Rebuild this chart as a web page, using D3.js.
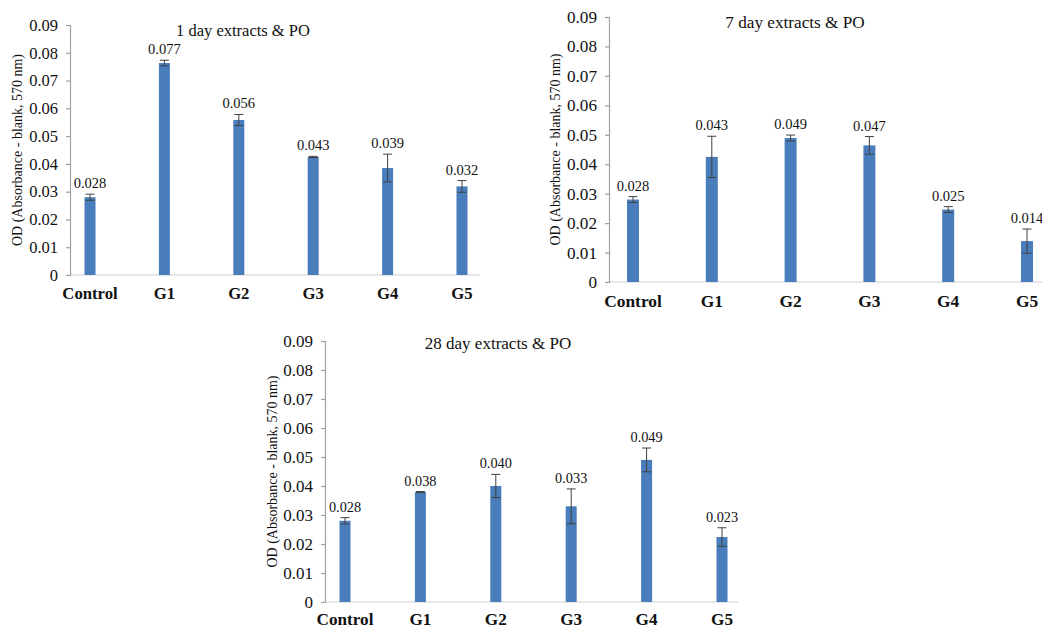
<!DOCTYPE html>
<html>
<head>
<meta charset="utf-8">
<script src="https://cdn.jsdelivr.net/npm/d3@7/dist/d3.min.js"></script>
<style>
  html, body { margin: 0; padding: 0; background: #fff; }
  svg { display: block; }
  svg text { font-family: "Times New Roman", "Liberation Serif", Tinos, "DejaVu Serif", serif; fill: #111; }
</style>
</head>
<body>
<svg id="chart" width="1042" height="629"></svg>
<script>
// ---- data ----
const categories = ["Control", "G1", "G2", "G3", "G4", "G5"];
const yTicks = [0, 0.01, 0.02, 0.03, 0.04, 0.05, 0.06, 0.07, 0.08, 0.09];
const yTickLabels = ["0", "0.01", "0.02", "0.03", "0.04", "0.05", "0.06", "0.07", "0.08", "0.09"];
const yAxisTitle = "OD (Absorbance - blank, 570 nm)";

const titles = ["1 day extracts & PO", "7 day extracts & PO", "28 day extracts & PO"];

const day1Values = [0.028, 0.0763, 0.0558, 0.0425, 0.0385, 0.0319];
const day1Errors = [0.0011, 0.0010, 0.0020, 0.0002, 0.0050, 0.0021];
const day1Labels = ["0.028", "0.077", "0.056", "0.043", "0.039", "0.032"];

const day7Values = [0.028, 0.0425, 0.0489, 0.0464, 0.0246, 0.0139];
const day7Errors = [0.0010, 0.0070, 0.0010, 0.0030, 0.0010, 0.0041];
const day7Labels = ["0.028", "0.043", "0.049", "0.047", "0.025", "0.014"];

const day28Values = [0.028, 0.0379, 0.0400, 0.0330, 0.0490, 0.0224];
const day28Errors = [0.0011, 0.0002, 0.0040, 0.0060, 0.0041, 0.0032];
const day28Labels = ["0.028", "0.038", "0.040", "0.033", "0.049", "0.023"];

// ---- layout ----
const FONT = "'Times New Roman', 'Liberation Serif', Tinos, 'DejaVu Serif', serif";
const panels = [
  { title: titles[0], values: day1Values, errors: day1Errors, labels: day1Labels,
    axisX: 70, y0: 275, yTop: 25, xFirst: 90, xLast: 462, axisEnd: 480,
    titleX: 243, titleY: 36, tickFont: 16.5, titleFont: 16.5, catFont: 16.7, catY: 299,
    labelFont: 14.5, yTitleX: 17, barW: 11 },
  { title: titles[1], values: day7Values, errors: day7Errors, labels: day7Labels,
    axisX: 609, y0: 282, yTop: 17, xFirst: 633, xLast: 1027, axisEnd: 1050,
    titleX: 795, titleY: 28, tickFont: 17.2, titleFont: 17.2, catFont: 17.4, catY: 307,
    labelFont: 14.5, yTitleX: 555, barW: 12 },
  { title: titles[2], values: day28Values, errors: day28Errors, labels: day28Labels,
    axisX: 325, y0: 602, yTop: 341, xFirst: 345, xLast: 722, axisEnd: 738,
    titleX: 498, titleY: 349, tickFont: 17, titleFont: 17, catFont: 17.2, catY: 625,
    labelFont: 14.3, yTitleX: 272, barW: 11 }
];

const svg = d3.select("#chart");

panels.forEach(p => {
  const g = svg.append("g").attr("font-family", FONT);
  const y = d3.scaleLinear().domain([0, 0.09]).range([p.y0, p.yTop]);
  const x = d3.scalePoint().domain(categories).range([p.xFirst, p.xLast]);

  // x axis line
  g.append("line")
    .attr("x1", p.axisX).attr("x2", p.axisEnd)
    .attr("y1", y(0)).attr("y2", y(0))
    .attr("stroke", "#d0d0d0").attr("stroke-width", 1.2);

  // y axis
  const yAxis = d3.axisLeft(y).tickValues(yTicks)
    .tickFormat((d, i) => yTickLabels[i]).tickSize(4).tickPadding(8);
  const ya = g.append("g").attr("transform", `translate(${p.axisX},0)`).call(yAxis)
    .attr("font-family", FONT);
  ya.select(".domain").attr("stroke", "#a0a0a0").attr("stroke-width", 1.2);
  ya.selectAll(".tick line").attr("stroke", "#a0a0a0").attr("stroke-width", 1.2);
  ya.selectAll(".tick text")
    .style("font-family", FONT)
    .attr("font-size", p.tickFont).attr("fill", "#111");

  // y axis title
  g.append("text")
    .attr("transform", `translate(${p.yTitleX},${(y(0) + y(0.09)) / 2}) rotate(-90)`)
    .attr("text-anchor", "middle").attr("dominant-baseline", "central")
    .attr("font-size", 14).text(yAxisTitle);

  // chart title
  g.append("text").attr("x", p.titleX).attr("y", p.titleY)
    .attr("text-anchor", "middle").attr("font-size", p.titleFont).text(p.title);

  // category labels
  g.selectAll("text.cat").data(categories).enter().append("text")
    .attr("class", "cat")
    .attr("x", d => x(d)).attr("y", p.catY)
    .attr("text-anchor", "middle").attr("font-weight", "bold")
    .attr("font-size", p.catFont).text(d => d);

  // bars
  g.selectAll("rect.bar").data(p.values).enter().append("rect")
    .attr("class", "bar")
    .attr("x", (d, i) => x(categories[i]) - p.barW / 2)
    .attr("width", p.barW)
    .attr("y", d => y(d))
    .attr("height", d => y(0) - y(d))
    .attr("fill", "#4a7dbb");

  // error bars
  const eb = g.selectAll("g.err").data(p.values).enter().append("g").attr("class", "err");
  eb.append("line")
    .attr("x1", (d, i) => x(categories[i])).attr("x2", (d, i) => x(categories[i]))
    .attr("y1", (d, i) => y(d - p.errors[i])).attr("y2", (d, i) => y(d + p.errors[i]))
    .attr("stroke", "#404040").attr("stroke-width", 1);
  [-1, 1].forEach(s => {
    eb.append("line")
      .attr("x1", (d, i) => x(categories[i]) - 4.5).attr("x2", (d, i) => x(categories[i]) + 4.5)
      .attr("y1", (d, i) => y(d + s * p.errors[i])).attr("y2", (d, i) => y(d + s * p.errors[i]))
      .attr("stroke", "#404040").attr("stroke-width", 1);
  });

  // value labels
  g.selectAll("text.val").data(p.values).enter().append("text")
    .attr("class", "val")
    .attr("x", (d, i) => x(categories[i]))
    .attr("y", (d, i) => y(d + p.errors[i]) - 6)
    .attr("text-anchor", "middle").attr("font-size", p.labelFont)
    .text((d, i) => p.labels[i]);
});
</script>
</body>
</html>
